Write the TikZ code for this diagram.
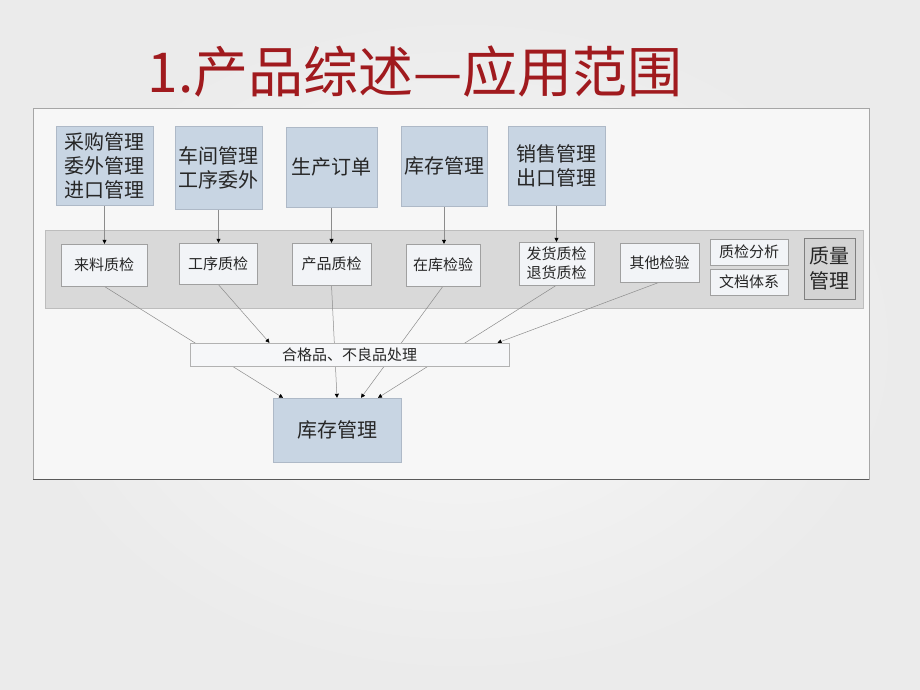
\documentclass[tikz,border=0pt]{standalone}
\usepackage{fontspec}
\setmainfont{Noto Sans CJK SC}
\usetikzlibrary{arrows.meta}
\pgfdeclarelayer{back}
\pgfdeclarelayer{mid}
\pgfsetlayers{back,mid,main}
\definecolor{titlered}{HTML}{A01A1E}
\definecolor{mgrfill}{HTML}{C8D5E3}
\definecolor{mgrline}{HTML}{AEB9C7}
\definecolor{chkfill}{HTML}{F2F4F7}
\definecolor{chkline}{HTML}{A0A0A0}
\definecolor{bandfill}{HTML}{D9D9D9}
\definecolor{bandline}{HTML}{BDBDBD}
\definecolor{linkgray}{HTML}{8C8C8C}
\begin{document}
\begin{tikzpicture}[x=1pt,y=-1pt,
	mgr/.style={draw=mgrline,fill=mgrfill,inner sep=0pt,align=center,text=black!85,font=\fontsize{20}{24}\selectfont},
	chk/.style={draw=chkline,fill=chkfill,inner sep=0pt,align=center,text=black!85,font=\fontsize{15}{19}\selectfont},
	link/.style={draw=linkgray,line width=0.5pt,-{Triangle[length=4pt,width=4pt,color=black]}}]
		\useasboundingbox (0,0) rectangle (920,690);
		\begin{pgfonlayer}{back}
		\shade[inner color=white!97!black,outer color=black!8] (0,0) rectangle (920,690);
		\filldraw[fill=white!97!black,draw=black!35] (33,108) rectangle (869,479);
		\draw[black!65,line width=1pt] (33,479) -- (869,479);
		\filldraw[fill=bandfill,draw=bandline] (45,230) rectangle (863,308);
		\end{pgfonlayer}
		\node[text=titlered,font=\fontsize{55}{60}\selectfont] (title) at (415,72) {1.产品综述—应用范围};
		\node[mgr,minimum width=97,minimum height=79] (cg) at (104.5,165.5) {采购管理\\委外管理\\进口管理};
		\node[mgr,minimum width=87,minimum height=83] (cj) at (218.5,167.5) {车间管理\\工序委外};
		\node[mgr,minimum width=91,minimum height=80] (sc) at (331.5,167) {生产订单};
		\node[mgr,minimum width=86,minimum height=80] (kc) at (444,166) {库存管理};
		\node[mgr,minimum width=97,minimum height=79] (xs) at (556.5,165.5) {销售管理\\出口管理};
		\node[chk,minimum width=86,minimum height=42] (ll) at (104,265) {来料质检};
		\node[chk,minimum width=78,minimum height=41] (gx) at (218,263.5) {工序质检};
		\node[chk,minimum width=79,minimum height=42] (cp) at (331.5,264) {产品质检};
		\node[chk,minimum width=74,minimum height=42] (zk) at (443,265) {在库检验};
		\node[chk,minimum width=75,minimum height=43] (fh) at (556.5,263.5) {发货质检\\退货质检};
		\node[chk,minimum width=79,minimum height=39] (qt) at (659.5,262.5) {其他检验};
		\node[chk,minimum width=78,minimum height=26] (fx) at (749,252) {质检分析};
		\node[chk,minimum width=78,minimum height=26] (wd) at (749,282) {文档体系};
		\node[chk,draw=black!50,fill=black!17,minimum width=51,minimum height=61,font=\fontsize{20}{25}\selectfont] (zl) at (829.5,268.5) {质量\\管理};
		\node[chk,draw=black!30,fill=chkfill!70!white,minimum width=319,minimum height=23] (hg) at (349.5,354.5) {合格品、不良品处理};
		\node[mgr,minimum width=128,minimum height=64] (kcgl) at (337,430) {库存管理};
		\begin{pgfonlayer}{mid}
		\draw[link] (cg.south) -- (cg.south |- ll.north);
		\draw[link] (cj.south) -- (cj.south |- gx.north);
		\draw[link] (sc.south) -- (sc.south |- cp.north);
		\draw[link] (kc.south) -- (kc.south |- zk.north);
		\draw[link] (xs.south) -- (xs.south |- fh.north);
		\draw[link] (ll.south) -- ([xshift=-54pt]kcgl.north);
		\draw[link] (gx.south) -- ([xshift=-80pt]hg.north);
		\draw[link] (cp.south) -- (kcgl.north);
		\draw[link] (zk.south) -- ([xshift=24pt]kcgl.north);
		\draw[link] (fh.south) -- ([xshift=41pt]kcgl.north);
		\draw[link] (qt.south) -- ([xshift=148pt]hg.north);
		\end{pgfonlayer}
	\end{tikzpicture}
\end{document}
